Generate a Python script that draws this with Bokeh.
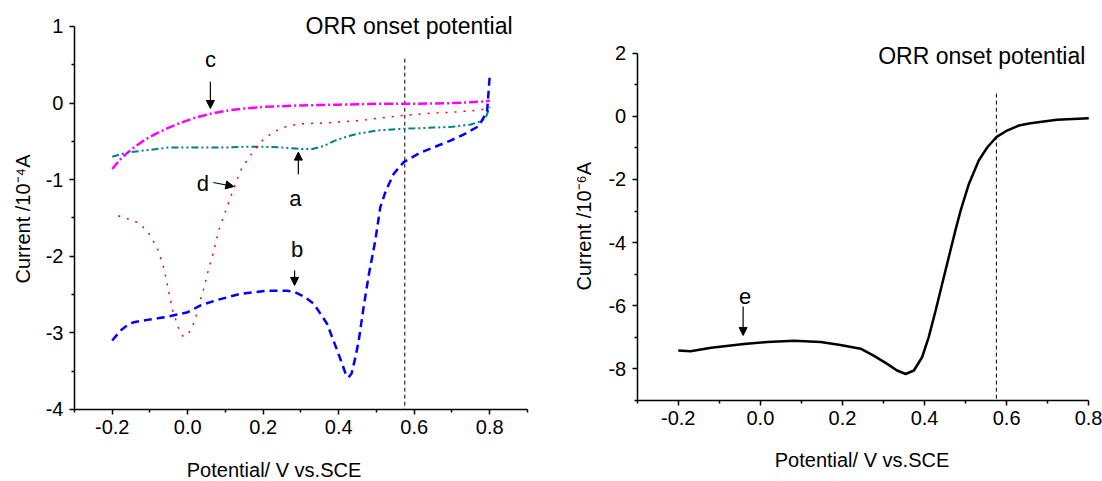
import math
from jinja2 import Template
from bokeh.plotting import figure
from bokeh.models import Label, Arrow, NormalHead, FixedTicker, Range1d
from bokeh.embed import file_html
from bokeh.resources import INLINE

FONT = "Liberation Sans"

# ---------------- data: left panel (CV curves) ----------------
a_x = [-0.2, -0.18, -0.15, -0.10, -0.05, 0.0, 0.05, 0.10, 0.15, 0.20, 0.25, 0.30, 0.33, 0.36,
       0.39, 0.42, 0.45, 0.50, 0.55, 0.60, 0.65, 0.70, 0.75, 0.78, 0.79, 0.80]
a_y = [-0.70, -0.67, -0.64, -0.61, -0.58, -0.58, -0.58, -0.58, -0.57, -0.57, -0.58, -0.60, -0.60, -0.56,
       -0.49, -0.44, -0.40, -0.36, -0.34, -0.33, -0.32, -0.31, -0.28, -0.23, -0.18, -0.05]

b_x = [-0.2, -0.178, -0.16, -0.143, -0.12, -0.107, -0.08, -0.054, -0.028, 0.0, 0.034, 0.078, 0.14,
       0.21, 0.263, 0.281, 0.31, 0.334, 0.369, 0.396, 0.405, 0.418, 0.426, 0.434, 0.445, 0.453, 0.466,
       0.480, 0.497, 0.51, 0.525, 0.546, 0.572, 0.617, 0.696, 0.731, 0.771, 0.793, 0.80]
b_y = [-3.10, -2.97, -2.90, -2.86, -2.84, -2.83, -2.81, -2.79, -2.76, -2.73, -2.64, -2.57, -2.49,
       -2.45, -2.45, -2.46, -2.53, -2.62, -2.88, -3.23, -3.35, -3.53, -3.58, -3.53, -3.30, -3.10, -2.66,
       -2.23, -1.79, -1.36, -1.14, -0.92, -0.77, -0.645, -0.49, -0.41, -0.30, -0.11, 0.36]

c_x = [-0.2, -0.18, -0.16, -0.14, -0.12, -0.10, -0.08, -0.05, -0.02, 0.02, 0.06, 0.10, 0.15, 0.20,
       0.25, 0.30, 0.40, 0.50, 0.60, 0.70, 0.78, 0.80]
c_y = [-0.86, -0.74, -0.65, -0.57, -0.50, -0.44, -0.39, -0.32, -0.26, -0.19, -0.14, -0.10, -0.07, -0.05,
       -0.04, -0.03, -0.02, -0.01, -0.01, 0.00, 0.02, 0.03]

d_x = [-0.184, -0.175, -0.15, -0.125, -0.10, -0.08, -0.063, -0.052, -0.041, -0.025, -0.012, 0.0, 0.007,
       0.019, 0.032, 0.041, 0.054, 0.069, 0.082, 0.104, 0.122, 0.14, 0.162, 0.179, 0.201, 0.224, 0.246,
       0.272, 0.30, 0.36, 0.45, 0.52, 0.575, 0.65, 0.70, 0.776, 0.80]
d_y = [-1.47, -1.49, -1.52, -1.58, -1.72, -1.90, -2.16, -2.42, -2.69, -2.93, -3.05, -3.02, -2.97,
       -2.84, -2.59, -2.45, -2.19, -1.93, -1.66, -1.36, -1.11, -0.88, -0.71, -0.60, -0.47, -0.39, -0.33,
       -0.29, -0.27, -0.26, -0.23, -0.19, -0.16, -0.13, -0.12, -0.09, -0.05]

# ---------------- data: right panel (LSV curve) ----------------
e_x = [-0.2, -0.17, -0.12, -0.04, 0.017, 0.082, 0.147, 0.195, 0.244, 0.276, 0.309, 0.333, 0.354, 0.374,
       0.394, 0.410, 0.427, 0.443, 0.459, 0.475, 0.488, 0.508, 0.532, 0.553, 0.575, 0.601, 0.630, 0.658,
       0.723, 0.80]
e_y = [-7.42, -7.44, -7.33, -7.21, -7.15, -7.11, -7.15, -7.24, -7.36, -7.58, -7.84, -8.05, -8.16, -8.05,
       -7.63, -7.00, -6.15, -5.30, -4.46, -3.62, -2.98, -2.14, -1.40, -0.98, -0.66, -0.45, -0.29, -0.22,
       -0.11, -0.06]

onset_x = [0.575, 0.575]
onset_left_y = [0.58, -4.0]
onset_right_y = [0.72, -9.0]

# ticks
left_x_ticks = [-0.2, 0.0, 0.2, 0.4, 0.6, 0.8]
left_x_labels = ["-0.2", "0.0", "0.2", "0.4", "0.6", "0.8"]
left_x_minor = [-0.3, -0.1, 0.1, 0.3, 0.5, 0.7, 0.9]
left_y_ticks = [1, 0, -1, -2, -3, -4]
left_y_labels = ["1", "0", "-1", "-2", "-3", "-4"]
left_y_minor = [0.5, -0.5, -1.5, -2.5, -3.5]

right_x_ticks = [-0.2, 0.0, 0.2, 0.4, 0.6, 0.8]
right_x_labels = ["-0.2", "0.0", "0.2", "0.4", "0.6", "0.8"]
right_x_minor = [-0.3, -0.1, 0.1, 0.3, 0.5, 0.7]
right_y_ticks = [2, 0, -2, -4, -6, -8]
right_y_labels = ["2", "0", "-2", "-4", "-6", "-8"]
right_y_minor = [1, -1, -3, -5, -7, -9]

# annotation letters (vertical middle) and arrows (x_start, y_start, x_end, y_end)
left_letters = ["c", "d", "a", "b"]
left_letter_x = [0.060, 0.040, 0.285, 0.290]
left_letter_y = [0.568, -1.051, -1.251, -1.916]
left_arrows = [(0.060, 0.28, 0.060, -0.07),
               (0.068, -1.037, 0.122, -1.089),
               (0.293, -0.93, 0.293, -0.64),
               (0.283, -2.185, 0.283, -2.38)]
right_letters = ["e"]
right_letter_x = [-0.037]
right_letter_y = [-5.697]
right_arrows = [(-0.042, -6.02, -0.042, -6.94)]

title_text = "ORR onset potential"
xlabel = "Potential/ V vs.SCE"
left_ylabel = "Current /10\u207b\u2074A"
right_ylabel = "Current /10\u207b\u2076A"


def style_axis(ax):
    ax.axis_line_width = 1.5
    ax.axis_line_color = "black"
    ax.major_tick_line_width = 1.5
    ax.minor_tick_line_width = 1.5
    ax.major_tick_line_color = "black"
    ax.minor_tick_line_color = "black"
    ax.major_tick_in = 0
    ax.major_tick_out = 5
    ax.minor_tick_in = 0
    ax.minor_tick_out = 3
    ax.major_label_text_font = FONT
    ax.major_label_text_font_size = "20px"
    ax.major_label_text_color = "black"
    ax.major_label_standoff = 6


def style(p, xt, xl, xm, yt, yl, ym, xb, yb):
    p.xgrid.visible = False
    p.ygrid.visible = False
    p.outline_line_color = None
    p.background_fill_color = "white"
    p.border_fill_color = "white"
    p.xaxis.ticker = FixedTicker(ticks=xt, minor_ticks=xm)
    p.yaxis.ticker = FixedTicker(ticks=yt, minor_ticks=ym)
    p.xaxis.major_label_overrides = {t: s for t, s in zip(xt, xl)}
    p.yaxis.major_label_overrides = {t: s for t, s in zip(yt, yl)}
    style_axis(p.xaxis[0])
    style_axis(p.yaxis[0])
    # axes drawn at fixed data positions, limited to the plotted span
    p.xaxis.bounds = xb
    p.yaxis.bounds = yb
    p.xaxis.fixed_location = yb[0]
    p.yaxis.fixed_location = xb[0]


def text_label(x, y, text, size, **kw):
    return Label(x=x, y=y, text=text, text_font=FONT, text_font_size=size, text_color="black",
                 text_baseline="middle", **kw)


def arrow(xs, ys, xe, ye):
    return Arrow(x_start=xs, y_start=ys, x_end=xe, y_end=ye, line_width=1.2, line_color="black",
                 end=NormalHead(size=8, fill_color="black", line_color="black", line_width=1))


# ---------------- left figure (frame fills the whole figure) ----------------
p1 = figure(width=551, height=481, x_range=Range1d(-0.496, 0.9636), y_range=Range1d(-4.94, 1.3394),
            output_backend="svg", toolbar_location=None,
            min_border_left=0, min_border_right=0, min_border_top=0, min_border_bottom=0)
style(p1, left_x_ticks, left_x_labels, left_x_minor, left_y_ticks, left_y_labels, left_y_minor,
      (-0.3, 0.9), (-4, 1))

p1.line(onset_x, onset_left_y, line_color="black", line_width=1, line_dash="4 3")
p1.line(c_x, c_y, line_color="#FF00FF", line_width=2.5, line_dash="9 3 2 3")
p1.line(a_x, a_y, line_color="#008080", line_width=2, line_dash="7 3 2 3 2 3")
p1.line(d_x, d_y, line_color="#FF0000", line_width=1.5, line_dash="2 7")
p1.line(b_x, b_y, line_color="#0000FF", line_width=2.5, line_dash="8 5")

p1.add_layout(text_label(0.312, 1.0, title_text, "23px", text_align="left"))
p1.add_layout(text_label(0.2285, -4.794, xlabel, "20px", text_align="center"))
p1.add_layout(text_label(-0.4377, -1.513, left_ylabel, "20px", angle=math.pi / 2, text_align="center"))
for t, x, y in zip(left_letters, left_letter_x, left_letter_y):
    p1.add_layout(text_label(x, y, t, "22px", text_align="center"))
for xs, ys, xe, ye in left_arrows:
    p1.add_layout(arrow(xs, ys, xe, ye))

# ---------------- right figure (frame fills the whole figure) ----------------
p2 = figure(width=551, height=481, x_range=Range1d(-0.5088, 0.8335), y_range=Range1d(-11.5657, 3.6693),
            output_backend="svg", toolbar_location=None,
            min_border_left=0, min_border_right=0, min_border_top=0, min_border_bottom=0)
style(p2, right_x_ticks, right_x_labels, right_x_minor, right_y_ticks, right_y_labels, right_y_minor,
      (-0.3, 0.8), (-9, 2))

p2.line(onset_x, onset_right_y, line_color="black", line_width=1, line_dash="4 3")
p2.line(e_x, e_y, line_color="black", line_width=2.5)

p2.add_layout(text_label(0.287, 1.918, title_text, "23px", text_align="left"))
p2.add_layout(text_label(0.2476, -10.895, xlabel, "20px", text_align="center"))
p2.add_layout(text_label(-0.4308, -3.48, right_ylabel, "20px", angle=math.pi / 2, text_align="center"))
for t, x, y in zip(right_letters, right_letter_x, right_letter_y):
    p2.add_layout(text_label(x, y, t, "22px", text_align="center"))
for xs, ys, xe, ye in right_arrows:
    p2.add_layout(arrow(xs, ys, xe, ye))

# two independent roots placed side by side
PAGE = Template(
    "{% extends base %}"
    "{% block preamble %}<style>html body{display:flex;flex-direction:row;"
    "align-items:flex-start;margin:0;padding:0;}</style>{% endblock %}"
)
open("out.html", "w").write(file_html([p1, p2], INLINE, template=PAGE))
